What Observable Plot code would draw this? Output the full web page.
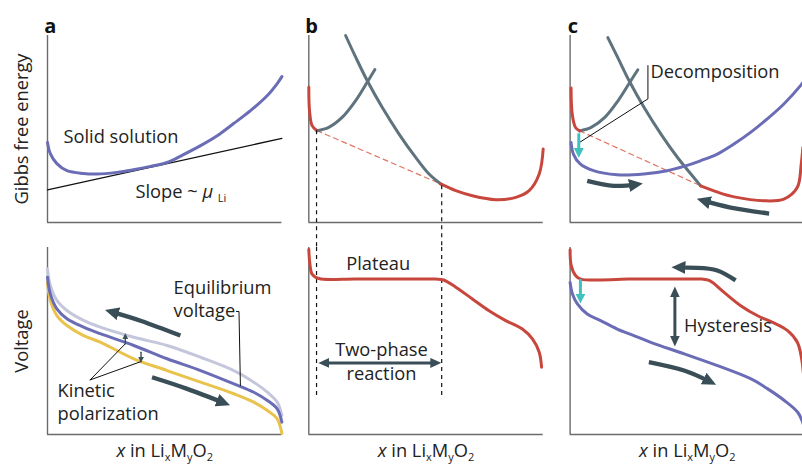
<!DOCTYPE html>
<html><head><meta charset="utf-8">
<script src="https://cdn.jsdelivr.net/npm/d3@7"></script>
<script src="https://cdn.jsdelivr.net/npm/@observablehq/plot@0.6"></script>
<style>body{margin:0;background:#fff}#chart{width:802px;height:465px;overflow:hidden}</style>
</head><body><div id="chart"></div><script>
// ---------- data (normalised panel coordinates: x 0..1, y 0..1) ----------
// panel a, top: Gibbs free energy of a solid solution and its tangent
const aTopSolid = [[0,0.428],[0.012,0.368],[0.040,0.315],[0.083,0.277],[0.153,0.262],[0.211,0.259],[0.296,0.268],[0.366,0.282],[0.439,0.300],[0.510,0.321],[0.580,0.363],[0.653,0.411],[0.724,0.464],[0.794,0.529],[0.866,0.598],[0.938,0.679],[0.980,0.743],[1.0,0.780]];
const aTopTangent = [[0,0.174],[1,0.450]];
// panel a, bottom: charge (light), equilibrium (blue), discharge (yellow)
const aBotCharge = [[0,0.886],[0.012,0.797],[0.040,0.717],[0.083,0.663],[0.154,0.610],[0.225,0.574],[0.368,0.520],[0.510,0.476],[0.653,0.413],[0.795,0.342],[0.880,0.280],[0.938,0.226],[0.980,0.173],[1.0,0.102]];
const aBotEquil = [[0,0.841],[0.012,0.752],[0.040,0.672],[0.083,0.619],[0.154,0.574],[0.225,0.539],[0.368,0.476],[0.510,0.405],[0.653,0.342],[0.795,0.271],[0.880,0.226],[0.938,0.182],[0.980,0.137],[1.0,0.066]];
const aBotDischarge = [[0,0.814],[0.012,0.717],[0.040,0.636],[0.083,0.583],[0.154,0.529],[0.225,0.494],[0.368,0.405],[0.510,0.342],[0.653,0.280],[0.795,0.218],[0.880,0.173],[0.938,0.128],[0.980,0.084],[1.0,0.005]];
const aBotArrowUp = [[0.567,0.529],[0.40,0.607],[0.27,0.657]];
const aBotArrowDown = [[0.446,0.306],[0.596,0.244],[0.755,0.168]];
const aKineticLeader1 = [[0.182,0.292],[0.332,0.485]];
const aKineticLeader2 = [[0.182,0.292],[0.399,0.390]];
const aKineticArrow1 = [[0.332,0.485],[0.332,0.525]];
const aKineticArrow2 = [[0.399,0.440],[0.399,0.400]];
const aEquilLeader = [[0.806,0.658],[0.817,0.658],[0.823,0.262]];
// panel b, top: two phases and common tangent
const bTopRedLeft = [[0,0.723],[0.003,0.598],[0.014,0.518],[0.035,0.491]];
const bTopGrayLeft = [[0.035,0.491],[0.085,0.509],[0.142,0.562],[0.200,0.652],[0.249,0.750],[0.282,0.818]];
const bTopGrayRight = [[0.157,1.0],[0.200,0.884],[0.249,0.759],[0.313,0.616],[0.385,0.473],[0.456,0.348],[0.513,0.259],[0.563,0.206]];
const bTopRedRight = [[0.563,0.206],[0.627,0.170],[0.698,0.143],[0.798,0.122],[0.883,0.134],[0.940,0.170],[0.983,0.259],[1.0,0.393]];
const bTopTangent = [[0.035,0.491],[0.563,0.206]];
const bDashX = [0.033, 0.567];
const bDashTop = [0.491, 0.196];
// panel b, bottom: voltage with plateau
const bBotVoltage = [[0,0.99],[0.004,0.92],[0.014,0.858],[0.043,0.834],[0.20,0.832],[0.40,0.831],[0.54,0.831],[0.575,0.826],[0.627,0.788],[0.698,0.725],[0.769,0.662],[0.840,0.609],[0.911,0.564],[0.954,0.511],[0.983,0.440],[0.993,0.360]];
const bTwoPhaseArrow = [[0.062,0.383],[0.544,0.383]];
// panel c, top
const cTopRedLeft = [[0.004,0.719],[0.009,0.580],[0.023,0.508],[0.041,0.490]];
const cTopGrayLeft = [[0.041,0.490],[0.090,0.509],[0.148,0.562],[0.205,0.652],[0.255,0.750],[0.289,0.817]];
const cTopGrayRight = [[0.161,0.989],[0.204,0.880],[0.253,0.755],[0.317,0.612],[0.389,0.470],[0.460,0.345],[0.517,0.257],[0.557,0.196]];
const cTopRedRight = [[0.557,0.196],[0.630,0.162],[0.700,0.137],[0.826,0.116],[0.912,0.125],[0.969,0.187],[0.986,0.312],[0.993,0.400]];
const cTopBlue = [[0.004,0.428],[0.014,0.366],[0.043,0.313],[0.100,0.277],[0.200,0.255],[0.314,0.259],[0.414,0.277],[0.485,0.300],[0.556,0.330],[0.628,0.366],[0.699,0.420],[0.770,0.482],[0.841,0.554],[0.912,0.634],[0.983,0.732],[1.0,0.760]];
const cTopTangent = [[0.041,0.490],[0.557,0.196]];
const cTopCyan = [[0.037,0.477],[0.037,0.372]];
const cDecompLeader = [[0.332,0.839],[0.332,0.661],[0.040,0.428]];
const cTopArrowRight = [[0.073,0.223],[0.186,0.196],[0.285,0.204]];
const cTopArrowLeft = [[0.849,0.048],[0.685,0.080],[0.565,0.118]];
// panel c, bottom
const cBotCharge = [[0,0.988],[0.005,0.902],[0.024,0.849],[0.045,0.831],[0.25,0.831],[0.45,0.831],[0.56,0.831],[0.595,0.823],[0.657,0.760],[0.728,0.689],[0.800,0.635],[0.871,0.596],[0.928,0.555],[0.970,0.492],[0.988,0.403],[0.995,0.33]];
const cBotDischarge = [[0,0.813],[0.010,0.751],[0.031,0.698],[0.073,0.644],[0.130,0.609],[0.201,0.564],[0.272,0.529],[0.344,0.493],[0.487,0.431],[0.629,0.368],[0.772,0.297],[0.843,0.244],[0.914,0.182],[0.971,0.119],[0.992,0.066],[1.0,0.03]];
const cBotCyan = [[0.044,0.831],[0.044,0.727]];
const cHysteresisArrow = [[0.447,0.765],[0.447,0.497]];
const cBotArrowLeft = [[0.706,0.824],[0.628,0.877],[0.543,0.891],[0.458,0.894]];
const cBotArrowRight = [[0.336,0.387],[0.486,0.342],[0.600,0.280]];

// ---------- text ----------
const panelLetters = ["a","b","c"];
const yTitles = [["top","Gibbs free energy"],["bottom","Voltage"]];
const xTitle = "*x* in Li_{x}M_{y}O_{2}";
const labelsStart = [
  {panel:"a",row:"top",x:0.068,y:0.455,text:"Solid solution"},
  {panel:"a",row:"top",x:0.375,y:0.160,text:"Slope ~ *μ* _{Li}"},
  {panel:"a",row:"bottom",x:0.538,y:0.730,text:"Equilibrium\nvoltage",lh:1.28},
  {panel:"a",row:"bottom",x:0.043,y:0.178,text:"Kinetic\npolarization",lh:1.28},
  {panel:"c",row:"top",x:0.343,y:0.802,text:"Decomposition"},
  {panel:"c",row:"bottom",x:0.486,y:0.578,text:"Hysteresis"}
];
const labelsMiddle = [
  {panel:"b",row:"bottom",x:0.296,y:0.911,text:"Plateau",lh:1},
  {panel:"b",row:"bottom",x:0.310,y:0.396,text:"Two-phase\nreaction",lh:1.32}
];

// ---------- helpers ----------
const FONT = "Open Sans, sans-serif";
const FS = 18.3;
const COL = {red:"#c8473d", gray:"#5e737d", blue:"#6a6db5", lav:"#c4c7db", yellow:"#e9c34c", dark:"#3a4e58", cyan:"#3fc1c0", dash:"#e07563", axis:"#6b6b6b"};
const rows = (arr, panel, row) => arr.map(([x, y]) => ({x, y, panel, row}));
const curve = (arr, panel, row, opts) => Plot.line(rows(arr, panel, row), {x:"x", y:"y", fx:"panel", fy:"row", curve:"catmull-rom", strokeWidth:3, ...opts});

const marks = [
  Plot.ruleX([0], {stroke:COL.axis, strokeWidth:1.4}),
  Plot.ruleY([0], {stroke:COL.axis, strokeWidth:1.4}),
  // a top
  curve(aTopTangent, "a", "top", {stroke:"#111", strokeWidth:1.3, curve:"linear"}),
  curve(aTopSolid, "a", "top", {stroke:COL.blue}),
  // a bottom
  curve(aBotCharge, "a", "bottom", {stroke:COL.lav}),
  curve(aBotDischarge, "a", "bottom", {stroke:COL.yellow}),
  curve(aBotEquil, "a", "bottom", {stroke:COL.blue}),
  curve(aBotArrowUp, "a", "bottom", {stroke:COL.dark, strokeWidth:4.3, curve:"natural", ariaDescription:"arrow-thick"}),
  curve(aBotArrowDown, "a", "bottom", {stroke:COL.dark, strokeWidth:4.3, curve:"natural", ariaDescription:"arrow-thick"}),
  curve(aKineticLeader1, "a", "bottom", {stroke:"#111", strokeWidth:1, curve:"linear"}),
  curve(aKineticLeader2, "a", "bottom", {stroke:"#111", strokeWidth:1, curve:"linear"}),
  curve(aKineticArrow1, "a", "bottom", {stroke:COL.dark, strokeWidth:1.4, curve:"linear", ariaDescription:"arrow-small"}),
  curve(aKineticArrow2, "a", "bottom", {stroke:COL.dark, strokeWidth:1.4, curve:"linear", ariaDescription:"arrow-small"}),
  curve(aEquilLeader, "a", "bottom", {stroke:"#111", strokeWidth:1, curve:"linear"}),
  // b top
  curve(bTopTangent, "b", "top", {stroke:COL.dash, strokeWidth:1.2, strokeDasharray:"5,4", curve:"linear"}),
  curve(bTopGrayLeft, "b", "top", {stroke:COL.gray}),
  curve(bTopGrayRight, "b", "top", {stroke:COL.gray}),
  curve(bTopRedLeft, "b", "top", {stroke:COL.red}),
  curve(bTopRedRight, "b", "top", {stroke:COL.red}),
  Plot.ruleX(bDashX.map((x, i) => ({x, y1:bDashTop[i], y2:-0.134, panel:"b", row:"top"})), {x:"x", y1:"y1", y2:"y2", fx:"panel", fy:"row", stroke:"#111", strokeWidth:1.2, strokeDasharray:"4,4"}),
  Plot.ruleX(bDashX.map((x) => ({x, y1:1.0, y2:0.191, panel:"b", row:"bottom"})), {x:"x", y1:"y1", y2:"y2", fx:"panel", fy:"row", stroke:"#111", strokeWidth:1.2, strokeDasharray:"4,4"}),
  // b bottom
  curve(bBotVoltage, "b", "bottom", {stroke:COL.red}),
  curve(bTwoPhaseArrow, "b", "bottom", {stroke:COL.dark, strokeWidth:3, curve:"linear", ariaDescription:"arrow-double"}),
  // c top
  curve(cTopTangent, "c", "top", {stroke:COL.dash, strokeWidth:1.2, strokeDasharray:"5,4", curve:"linear"}),
  curve(cTopGrayLeft, "c", "top", {stroke:COL.gray}),
  curve(cTopGrayRight, "c", "top", {stroke:COL.gray}),
  curve(cTopRedLeft, "c", "top", {stroke:COL.red}),
  curve(cTopRedRight, "c", "top", {stroke:COL.red}),
  curve(cTopBlue, "c", "top", {stroke:COL.blue}),
  curve(cDecompLeader, "c", "top", {stroke:"#111", strokeWidth:1, curve:"linear"}),
  curve(cTopCyan, "c", "top", {stroke:COL.cyan, strokeWidth:3, curve:"linear", ariaDescription:"arrow-cyan"}),
  curve(cTopArrowRight, "c", "top", {stroke:COL.dark, strokeWidth:4.3, curve:"natural", ariaDescription:"arrow-thick"}),
  curve(cTopArrowLeft, "c", "top", {stroke:COL.dark, strokeWidth:4.3, curve:"natural", ariaDescription:"arrow-thick"}),
  // c bottom
  curve(cBotCharge, "c", "bottom", {stroke:COL.red}),
  curve(cBotDischarge, "c", "bottom", {stroke:COL.blue}),
  curve(cBotCyan, "c", "bottom", {stroke:COL.cyan, strokeWidth:3, curve:"linear", ariaDescription:"arrow-cyan"}),
  curve(cHysteresisArrow, "c", "bottom", {stroke:COL.dark, strokeWidth:3, curve:"linear", ariaDescription:"arrow-double"}),
  curve(cBotArrowLeft, "c", "bottom", {stroke:COL.dark, strokeWidth:4.3, curve:"natural", ariaDescription:"arrow-thick"}),
  curve(cBotArrowRight, "c", "bottom", {stroke:COL.dark, strokeWidth:4.3, curve:"natural", ariaDescription:"arrow-thick"}),
  // text
  Plot.text(panelLetters.map(p => ({panel:p, row:"top", t:p})), {x:() => 0.012, y:() => 1.045, fx:"panel", fy:"row", text:"t", fontSize:20, fontWeight:"bold", fontFamily:FONT, fill:"#111"}),
  Plot.text(yTitles.map(([row, t]) => ({panel:"a", row, t})), {x:() => -0.108, y:() => 0.5, fx:"panel", fy:"row", text:"t", rotate:-90, fontSize:FS, fontFamily:FONT, fill:"#222"}),
  Plot.text(panelLetters.map(p => ({panel:p, row:"bottom", t:xTitle})), {x:() => 0.5, y:() => -0.088, fx:"panel", fy:"row", text:"t", fontSize:FS, fontFamily:FONT, fill:"#222"}),
  ...labelsStart.map(d => Plot.text([d], {x:"x", y:"y", fx:"panel", fy:"row", text:"text", textAnchor:"start", lineHeight:d.lh || 1, fontSize:FS, fontFamily:FONT, fill:"#222"})),
  ...labelsMiddle.map(d => Plot.text([d], {x:"x", y:"y", fx:"panel", fy:"row", text:"text", textAnchor:"middle", lineHeight:d.lh || 1, fontSize:FS, fontFamily:FONT, fill:"#222"}))
];

const plot = Plot.plot({
  width: 802, height: 465,
  marginLeft: 47, marginRight: -2, marginTop: 35, marginBottom: 31,
  style: {background:"#fff", fontFamily:FONT, overflow:"visible"},
  fx: {domain:["a","b","c"], paddingInner:0.103, paddingOuter:0, round:false, axis:null},
  fy: {domain:["top","bottom"], paddingInner:0.118, paddingOuter:0, round:false, axis:null},
  x: {domain:[0,1], axis:null},
  y: {domain:[0,1], axis:null},
  marks
});

// ---------- arrowheads and rich text ----------
const svg = d3.select(plot);
const defs = svg.insert("defs", ":first-child");
function marker(id, color, len, wid, back){
  defs.append("marker").attr("id", id)
    .attr("viewBox", `0 0 ${len} ${wid}`).attr("refX", len - back).attr("refY", wid/2)
    .attr("markerWidth", len).attr("markerHeight", wid)
    .attr("markerUnits", "userSpaceOnUse").attr("orient", "auto-start-reverse")
    .append("path").attr("d", `M0,0L${len},${wid/2}L0,${wid}Z`).attr("fill", color);
}
marker("mThick", COL.dark, 14, 13, 6);
marker("mDouble", COL.dark, 11, 10, 5);
marker("mSmall", COL.dark, 6, 6, 3);
marker("mCyan", COL.cyan, 10, 10, 5);
svg.selectAll('g[aria-description="arrow-thick"] path').attr("marker-end", "url(#mThick)").attr("stroke-linecap", "butt");
svg.selectAll('g[aria-description="arrow-double"] path').attr("marker-end", "url(#mDouble)").attr("marker-start", "url(#mDouble)").attr("stroke-linecap", "butt");
svg.selectAll('g[aria-description="arrow-small"] path').attr("marker-end", "url(#mSmall)");
svg.selectAll('g[aria-description="arrow-cyan"] path').attr("marker-end", "url(#mCyan)").attr("stroke-linecap", "butt");

document.getElementById("chart").appendChild(plot);
svg.selectAll("text").each(function(){
  const el = this;
  if (el.children.length) return;
  const t = el.textContent;
  if (!/[*_]/.test(t)) return;
  const fs = parseFloat(getComputedStyle(el).fontSize) || FS;
  const parts = t.split(/(\*[^*]+\*|_\{[^}]+\})/).filter(s => s !== "");
  el.textContent = "";
  for (const p of parts){
    const ts = d3.select(el).append("tspan");
    if (p.startsWith("*")) ts.attr("font-style", "italic").text(p.slice(1, -1));
    else if (p.startsWith("_{")) ts.attr("font-size", (fs*0.6) + "px").attr("baseline-shift", (-0.24*fs) + "px").text(p.slice(2, -1));
    else ts.text(p);
  }
});
</script></body></html>
